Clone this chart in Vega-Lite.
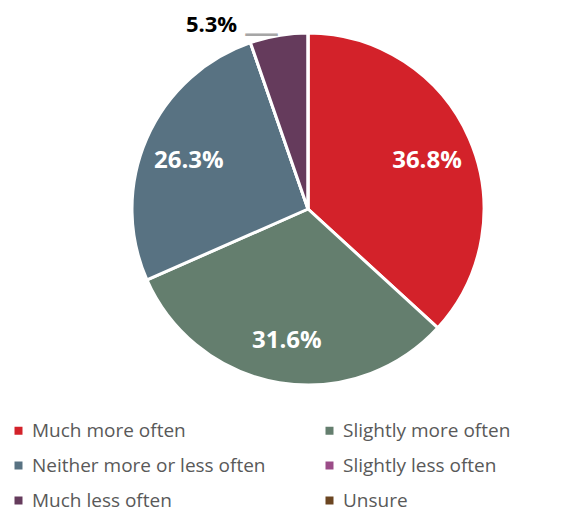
{
  "$schema": "https://vega.github.io/schema/vega-lite/v6.json",
  "width": 352,
  "height": 352,
  "autosize": "none",
  "padding": {"left": 132, "top": 33, "right": 83, "bottom": 126},
  "background": "white",
  "config": {"view": {"stroke": null}, "font": "Open Sans"},
  "data": {
    "values": [
      {"category": "Much more often", "value": 36.8, "order": 1, "label": "36.8%"},
      {"category": "Slightly more often", "value": 31.6, "order": 2, "label": "31.6%"},
      {"category": "Neither more or less often", "value": 26.3, "order": 3, "label": "26.3%"},
      {"category": "Slightly less often", "value": 0, "order": 4, "label": ""},
      {"category": "Much less often", "value": 5.3, "order": 5, "label": "5.3%"},
      {"category": "Unsure", "value": 0, "order": 6, "label": ""}
    ]
  },
  "encoding": {
    "theta": {"field": "value", "type": "quantitative", "stack": true},
    "order": {"field": "order", "type": "quantitative", "sort": "ascending"}
  },
  "layer": [
    {
      "mark": {"type": "arc", "outerRadius": 176, "stroke": "white", "strokeWidth": 3},
      "encoding": {
        "color": {
          "field": "category",
          "type": "nominal",
          "sort": ["Much more often", "Slightly more often", "Neither more or less often", "Slightly less often", "Much less often", "Unsure"],
          "scale": {
            "domain": ["Much more often", "Slightly more often", "Neither more or less often", "Slightly less often", "Much less often", "Unsure"],
            "range": ["#D3222A", "#647E6E", "#587282", "#9B4C88", "#653B5C", "#6B4521"]
          },
          "legend": {
            "title": null,
            "orient": "none",
            "legendX": -123,
            "legendY": 388,
            "columns": 2,
            "direction": "horizontal",
            "columnPadding": 54,
            "rowPadding": 15,
            "symbolType": "square",
            "symbolSize": 64,
            "symbolStrokeWidth": 0,
            "labelFontSize": 19,
            "labelColor": "#595959",
            "labelFont": "Open Sans",
            "labelOffset": 4,
            "labelLimit": 400
          }
        }
      }
    },
    {
      "mark": {"type": "text", "radius": 130, "dy": 4, "fontSize": 24, "fontWeight": "bold", "color": "white", "font": "Open Sans"},
      "encoding": {
        "text": {"condition": {"test": "datum.order <= 3", "field": "label"}, "value": ""}
      }
    },
    {
      "mark": {"type": "text", "radius": 190, "dx": -65, "dy": 3, "fontSize": 22, "fontWeight": "bold", "color": "black", "font": "Open Sans"},
      "encoding": {
        "text": {"condition": {"test": "datum.order == 5", "field": "label"}, "value": ""}
      }
    },
    {
      "mark": {"type": "text", "radius": 190, "dx": -15, "dy": 12, "fontSize": 36, "font": "DejaVu Sans", "baseline": "middle", "color": "#A6A6A6"},
      "encoding": {
        "text": {"condition": {"test": "datum.order == 5", "value": "—"}, "value": ""}
      }
    }
  ]
}
